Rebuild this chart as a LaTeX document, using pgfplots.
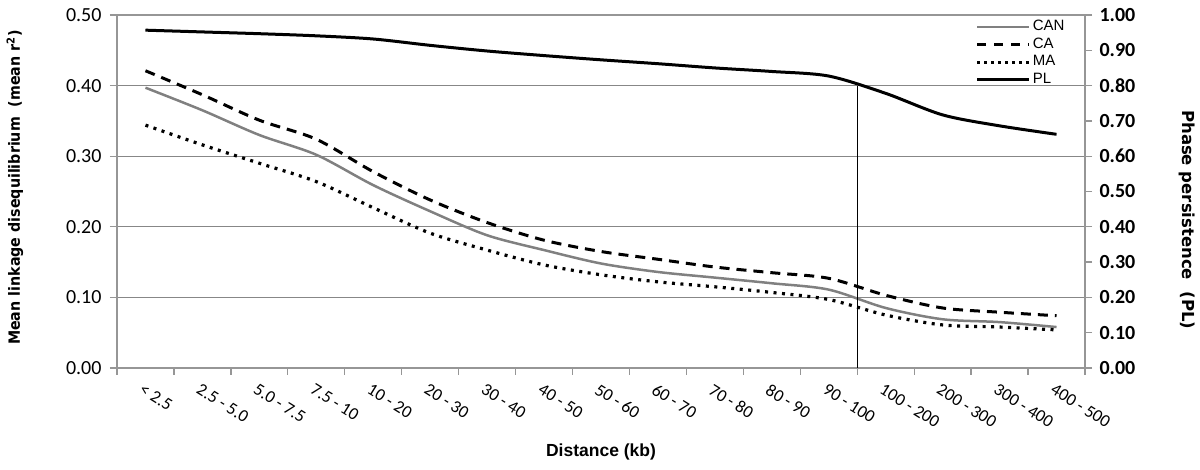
\documentclass[border=0pt]{standalone}
\usepackage{fontspec}
\setmainfont{Carlito}
\newfontfamily\arial{Liberation Sans}
\newfontfamily\dejavu{DejaVu Sans}
\newfontfamily\dejavucond{DejaVu Sans}[FakeStretch=0.92]
\usepackage{pgfplots}
\pgfplotsset{compat=1.18}
\definecolor{axisgray}{RGB}{150,150,150}
\definecolor{gridgray}{RGB}{135,135,135}
\definecolor{cangray}{RGB}{128,128,128}
\begin{document}
\begin{tikzpicture}
\useasboundingbox (-117pt,-102pt) rectangle (1083pt,368pt);
\begin{axis}[
  at={(0pt,0pt)}, anchor=south west, scale only axis, width=968pt, height=353pt,
  xmin=-0.5, xmax=16.5, ymin=0, ymax=0.5,
  axis line style={draw=axisgray, line width=1.3pt},
  xtick={0,...,16},
  xticklabels={{< 2.5},{2.5 - 5.0},{5.0 - 7.5},{7.5 - 10},{10 - 20},{20 - 30},{30 - 40},{40 - 50},{50 - 60},{60 - 70},{70 - 80},{80 - 90},{90 - 100},{100 - 200},{200 - 300},{300 - 400},{400 - 500}},
  minor xtick={-0.5,0.5,...,16.5},
  xtick pos=bottom, ytick pos=left,
  tick align=outside,
  major tick length=7pt, minor tick length=7pt,
  tick style={draw=axisgray, line width=1.3pt},
  major x tick style={draw=none},
  ytick={0,0.1,0.2,0.3,0.4,0.5},
  ymajorgrids, grid style={draw=gridgray, line width=1.3pt},
  /pgf/number format/assume math mode=true,
  yticklabel style={/pgf/number format/fixed, /pgf/number format/fixed zerofill, /pgf/number format/precision=2, font=\fontsize{20}{20}\selectfont, xshift=-5pt},
  xticklabel style={rotate=-32, anchor=north west, font=\fontsize{17.5}{17.5}\selectfont, xshift=0pt, yshift=-4pt},
  xlabel={Distance (kb)},
  ylabel={Mean linkage disequilibrium\ \ (mean r\textsuperscript{2})},
  every axis x label/.style={at={(axis description cs:0.5,-0.238)}, anchor=center, font=\arial\bfseries\fontsize{17.5}{17.5}\selectfont},
  every axis y label/.style={at={(axis description cs:-0.1054,0.511)}, anchor=center, rotate=90, font=\dejavucond\bfseries\fontsize{15.5}{15.5}\selectfont},
]
\addplot[cangray, line width=2.5pt, smooth, tension=0.5] coordinates {
(0,0.397) (1,0.365) (2,0.330) (3,0.302) (4,0.259) (5,0.222) (6,0.188) (7,0.167) (8,0.148) (9,0.136) (10,0.128) (11,0.120) (12,0.111) (13,0.085) (14,0.069) (15,0.065) (16,0.058)};
\addplot[black, line width=3pt, dash pattern=on 10pt off 7pt, smooth, tension=0.5] coordinates {
(0,0.421) (1,0.387) (2,0.351) (3,0.324) (4,0.278) (5,0.238) (6,0.206) (7,0.181) (8,0.165) (9,0.154) (10,0.143) (11,0.135) (12,0.127) (13,0.103) (14,0.085) (15,0.079) (16,0.074)};
\addplot[black, line width=3.2pt, dash pattern=on 3pt off 5.5pt, smooth, tension=0.5] coordinates {
(0,0.344) (1,0.316) (2,0.290) (3,0.264) (4,0.227) (5,0.191) (6,0.167) (7,0.146) (8,0.132) (9,0.122) (10,0.115) (11,0.107) (12,0.097) (13,0.075) (14,0.061) (15,0.058) (16,0.054)};
\end{axis}
\begin{axis}[
  at={(0pt,0pt)}, anchor=south west, scale only axis, width=968pt, height=353pt,
  xmin=-0.5, xmax=16.5, ymin=0, ymax=1,
  axis x line=none, axis y line*=right, xtick=\empty,
  axis line style={draw=axisgray, line width=1.3pt, -},
  tick align=outside, major tick length=7pt,
  tick style={draw=axisgray, line width=1.3pt},
  ytick={0,0.1,0.2,0.3,0.4,0.5,0.6,0.7,0.8,0.9,1.0},
  /pgf/number format/assume math mode=true,
  yticklabel style={/pgf/number format/fixed, /pgf/number format/fixed zerofill, /pgf/number format/precision=2, font=\bfseries\fontsize{20}{20}\selectfont, xshift=4pt},
  ylabel={Phase persistence\ \ (PL)},
  every axis y label/.style={at={(axis description cs:1.105,0.42)}, anchor=center, rotate=-90, font=\dejavu\bfseries\fontsize{16.5}{16.5}\selectfont},
  legend image code/.code={\draw[#1] (0pt,0pt) -- (52pt,0pt);},
  legend style={at={(axis description cs:0.887,0.991)}, anchor=north west, draw=none, fill=none, inner sep=0pt, font=\arial\fontsize{15}{15}\selectfont, row sep=0pt, nodes={inner xsep=2pt, inner ysep=1.5pt, text height=11pt, text depth=3.5pt}},
  legend cell align=left,
]
\addlegendimage{cangray, line width=2.5pt}
\addlegendentry{CAN}
\addlegendimage{black, line width=3pt, dash pattern=on 9pt off 8pt}
\addlegendentry{CA}
\addlegendimage{black, line width=3pt, dash pattern=on 3pt off 4pt}
\addlegendentry{MA}
\addplot[black, line width=3pt, smooth, tension=0.5] coordinates {
(0,0.957) (1,0.952) (2,0.947) (3,0.941) (4,0.932) (5,0.914) (6,0.898) (7,0.885) (8,0.873) (9,0.862) (10,0.850) (11,0.840) (12,0.827) (13,0.778) (14,0.717) (15,0.686) (16,0.662)};
\addlegendentry{PL}
\addplot[black, line width=1.3pt, forget plot] coordinates {(12.5,0) (12.5,0.80)};
\end{axis}
\end{tikzpicture}
\end{document}
